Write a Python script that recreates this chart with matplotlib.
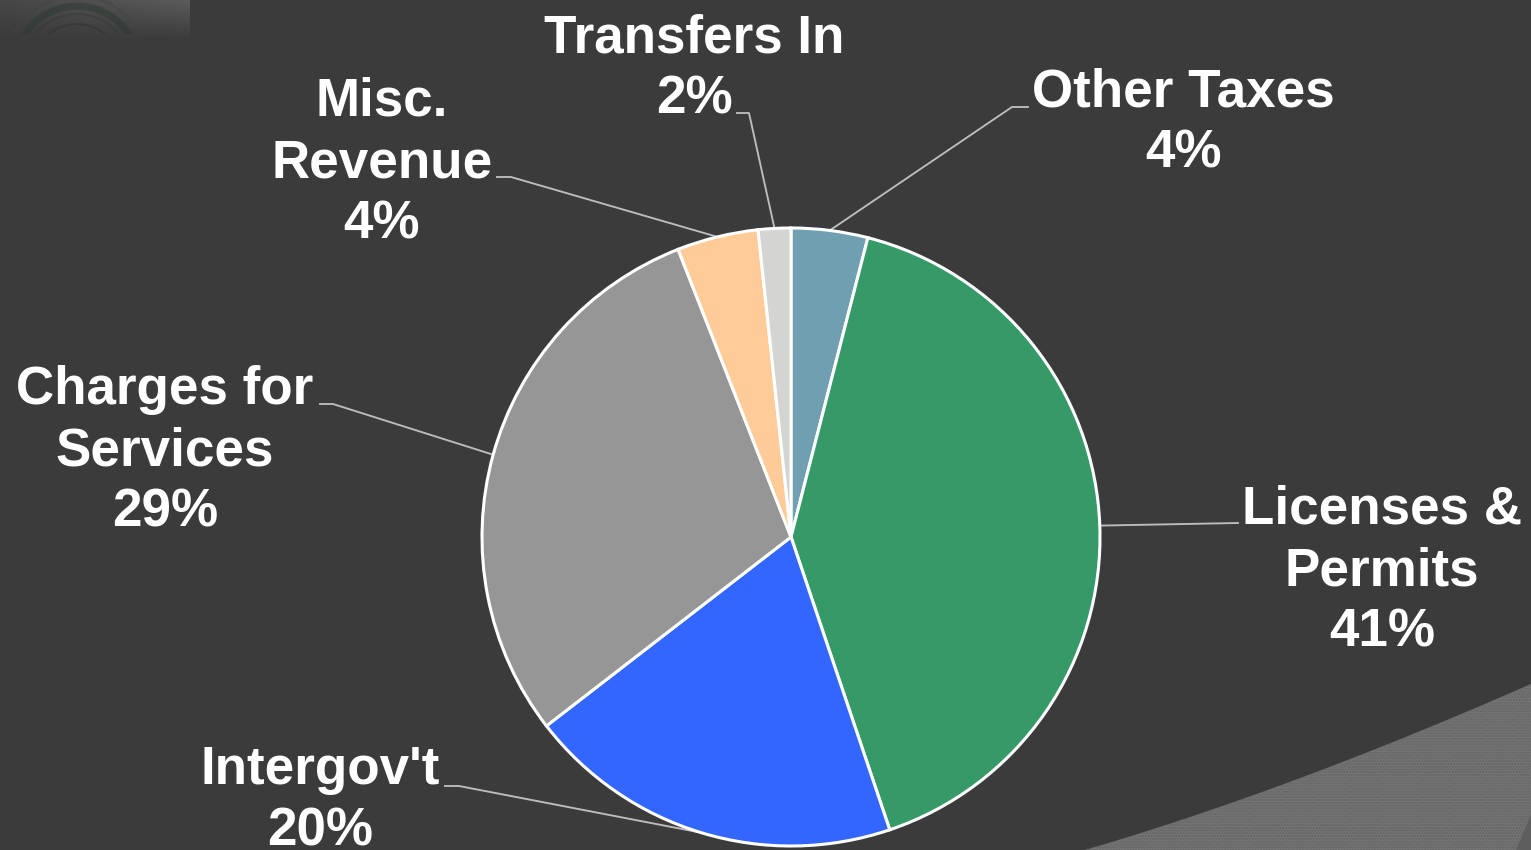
import numpy as np
import matplotlib
matplotlib.use('Agg')
import matplotlib.pyplot as plt

# datos
categorias = ['Other Taxes', 'Licenses &\nPermits', "Intergov't", 'Charges for\nServices', 'Misc.\nRevenue', 'Transfers In']
valores = [4.0, 40.8, 19.7, 29.5, 4.25, 1.7]
porcentajes = ['4%', '41%', '20%', '29%', '4%', '2%']
colores = ['#6f9fb0', '#359a68', '#3366ff', '#969696', '#ffcc99', '#d4d4d2']

# posicion de etiquetas en pixeles: centro del texto, inicio y codo de la guia
pos_texto = [(1183, 123), (1382, 571), (320, 801), (165, 451), (382, 163), (694, 69)]
pos_guia = [(1028, 107), (1238, 523), (445, 786), (320, 404), (497, 177), (737, 113)]
pos_codo = [(1012, 107), (1238, 523), (459, 786), (333, 404), (511, 177), (749, 113)]

W, H = 1531, 850
FONDO = '#3b3b3b'
centro = (791, 537)
radio = 309

def py(y):
    return H - y

fig = plt.figure(figsize=(W / 100, H / 100), dpi=100, facecolor=FONDO)
ax = fig.add_axes([0, 0, 1, 1])
ax.set_xlim(0, W)
ax.set_ylim(0, H)
ax.axis('off')

# esquina superior izquierda: sello desvanecido
img = np.zeros((40, 190, 4))
img[..., :3] = 0.36
img[..., 3] = (1 - np.linspace(0, 1, 40)).reshape(-1, 1) * (0.35 + 0.65 * np.linspace(0, 1, 190))
ax.imshow(img, extent=(0, 190, py(40), py(0)), aspect='auto', zorder=1)
recorte = plt.Rectangle((0, py(34)), 190, 34, transform=ax.transData)
t = np.linspace(0, 2 * np.pi, 300)
for r, c, lw in [(62, '#2e3a31', 5), (54, '#343d36', 1.5), (44, '#333333', 1.5), (72, '#454545', 1.5)]:
    linea, = ax.plot(77 + r * np.cos(t), py(68) + r * np.sin(t), color=c, lw=lw, alpha=0.55, zorder=2)
    linea.set_clip_path(recorte)
ax.set_xlim(0, W)
ax.set_ylim(0, H)

# esquina inferior derecha: zona gris con trama
s = np.linspace(0, 1, 60)
p0, p1, p2 = np.array([1085, 850]), np.array([1290, 790]), np.array([1531, 684])
curva = np.outer((1 - s) ** 2, p0) + np.outer(2 * s * (1 - s), p1) + np.outer(s ** 2, p2)
xs = np.r_[curva[:, 0], W, 1085]
ys = np.r_[curva[:, 1], H, H]
ax.fill(xs, py(ys), facecolor='#747474', edgecolor='#646464', hatch='......', lw=0, zorder=1)
ax.fill([1531, 1531, 1516], py(np.array([815, 850, 850])), color='#5e5e5e', lw=0, zorder=1)

# pastel
wedges, _ = ax.pie(valores, colors=colores, startangle=90, counterclock=False,
                   center=(centro[0], py(centro[1])), radius=radio, frame=True,
                   wedgeprops={'edgecolor': 'white', 'linewidth': 2.2})
for w in wedges:
    w.set_zorder(3)
ax.set_xlim(0, W)
ax.set_ylim(0, H)
ax.set_aspect('auto')
ax.axis('off')

# etiquetas y guias
for i in range(len(valores)):
    w = wedges[i]
    ang = np.deg2rad((w.theta1 + w.theta2) / 2)
    fin = (centro[0] + radio * np.cos(ang), py(centro[1]) + radio * np.sin(ang))
    ax.plot([pos_guia[i][0], pos_codo[i][0], fin[0]],
            [py(pos_guia[i][1]), py(pos_codo[i][1]), fin[1]],
            color='#bdbdbd', lw=1.35, zorder=2)
    ax.text(pos_texto[i][0], py(pos_texto[i][1]), categorias[i] + '\n' + porcentajes[i],
            ha='center', va='center', color='white', fontsize=38.2, fontweight='bold',
            family='Liberation Sans', linespacing=1.29, zorder=4)

fig.savefig('out.png', dpi=100, facecolor=FONDO)
